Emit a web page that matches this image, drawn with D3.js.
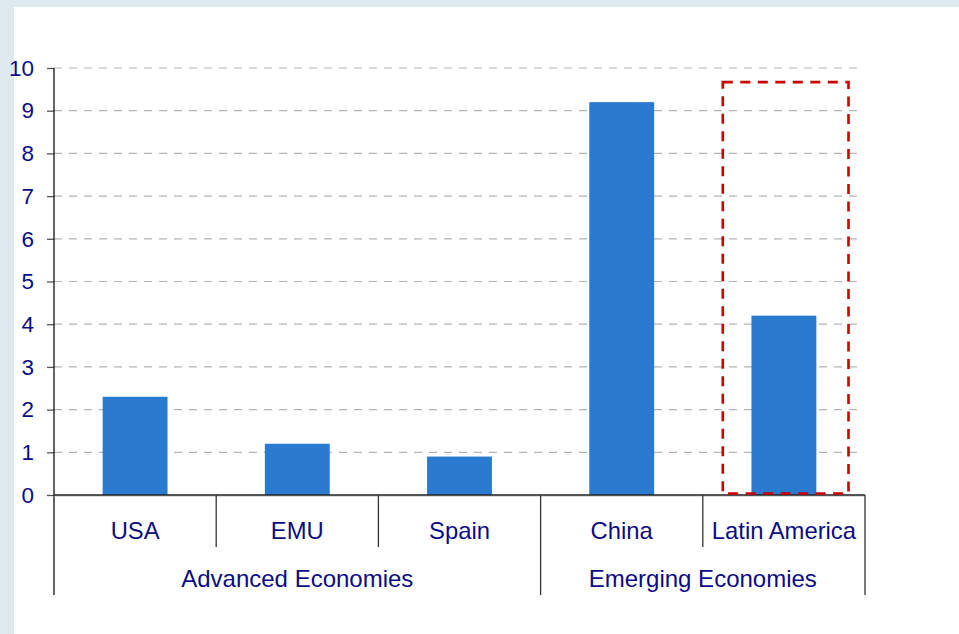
<!DOCTYPE html>
<html>
<head>
<meta charset="utf-8">
<script src="https://cdn.jsdelivr.net/npm/d3@7"></script>
<style>
  html, body { margin: 0; padding: 0; background: #dfe9f0; }
  svg { display: block; }
  text { font-family: "Liberation Sans", Arial, sans-serif; fill: #0c0c84; }
</style>
</head>
<body>
<svg id="chart" width="959" height="634"></svg>
<script>
// Categories, their groups and the plotted values
const categories = ["USA", "EMU", "Spain", "China", "Latin America"];
const groups = [
  { name: "Advanced Economies", members: ["USA", "EMU", "Spain"] },
  { name: "Emerging Economies", members: ["China", "Latin America"] }
];
const values = [2.3, 1.2, 0.9, 9.2, 4.2];
const yTicks = [0, 1, 2, 3, 4, 5, 6, 7, 8, 9, 10];
const highlighted = "Latin America";
const highlightTop = 9.67;

const svg = d3.select("#chart");
const W = 959, H = 634;

// white panel over the pale frame
svg.append("rect").attr("x", 14).attr("y", 7).attr("width", W - 14).attr("height", H - 7).attr("fill", "#ffffff");

const plot = { left: 54, right: 865, top: 68, bottom: 495 };
const catRowBottom = 547, groupRowBottom = 595;

const cell = d3.scaleBand().domain(categories).range([plot.left, plot.right]).padding(0);
const x = d3.scaleBand().domain(categories).range([plot.left, plot.right]).paddingInner(0.6).paddingOuter(0.3);
const y = d3.scaleLinear().domain([0, 10]).range([plot.bottom, plot.top]);

// dashed horizontal gridlines
svg.append("g").selectAll("line").data(yTicks.filter(d => d > 0)).join("line")
  .attr("x1", plot.left).attr("x2", 862)
  .attr("y1", d => y(d)).attr("y2", d => y(d))
  .attr("stroke", "#b4b4b4").attr("stroke-width", 1.2).attr("stroke-dasharray", "8,7");

// bars
svg.append("g").selectAll("rect").data(categories).join("rect")
  .attr("x", d => x(d)).attr("width", x.bandwidth())
  .attr("y", (d, i) => y(values[i]))
  .attr("height", (d, i) => y(0) - y(values[i]))
  .attr("fill", "#2a7ad0");

// y axis
const yAxis = d3.axisLeft(y).tickValues(yTicks).tickSize(7).tickPadding(13).tickFormat(d3.format("d"));
const gy = svg.append("g").attr("transform", `translate(${plot.left},0)`).call(yAxis);
gy.select(".domain").remove();
gy.selectAll(".tick line").attr("stroke", "#555").attr("stroke-width", 1.3);
gy.selectAll(".tick text").attr("font-size", 22.5).attr("fill", "#0c0c84")
  .attr("font-family", "Liberation Sans, Arial, sans-serif");
svg.append("line").attr("x1", plot.left).attr("x2", plot.left)
  .attr("y1", plot.top).attr("y2", groupRowBottom).attr("stroke", "#111").attr("stroke-width", 1.3);

// x axis baseline
svg.append("line").attr("x1", plot.left).attr("x2", plot.right)
  .attr("y1", y(0) + 1).attr("y2", y(0) + 1).attr("stroke", "#bbb").attr("stroke-width", 1);
svg.append("line").attr("x1", plot.left).attr("x2", plot.right)
  .attr("y1", y(0)).attr("y2", y(0)).attr("stroke", "#222").attr("stroke-width", 1.3);

// separators between categories and groups
const groupEnds = new Set(groups.map(g => g.members[g.members.length - 1]));
svg.append("g").selectAll("line").data(categories).join("line")
  .attr("x1", d => cell(d) + cell.bandwidth()).attr("x2", d => cell(d) + cell.bandwidth())
  .attr("y1", plot.bottom)
  .attr("y2", d => groupEnds.has(d) ? groupRowBottom : catRowBottom)
  .attr("stroke", "#333").attr("stroke-width", 1.3);

// category labels
svg.append("g").selectAll("text").data(categories).join("text")
  .attr("x", d => cell(d) + cell.bandwidth() / 2).attr("y", 539)
  .attr("text-anchor", "middle").attr("font-size", 23.8)
  .text(d => d);

// group labels
svg.append("g").selectAll("text").data(groups).join("text")
  .attr("x", g => (cell(g.members[0]) + cell(g.members[g.members.length - 1]) + cell.bandwidth()) / 2)
  .attr("y", 587).attr("text-anchor", "middle").attr("font-size", 24)
  .text(g => g.name);

// dashed outline around the highlighted category
const hx0 = cell(highlighted) + 20, hx1 = cell(highlighted) + cell.bandwidth() - 16.5;
svg.append("rect")
  .attr("x", hx0).attr("y", y(highlightTop))
  .attr("width", hx1 - hx0).attr("height", y(0) - 1.5 - y(highlightTop))
  .attr("fill", "none").attr("stroke", "#cc0000").attr("stroke-width", 2.6)
  .attr("stroke-dasharray", "10,7.5");
</script>
</body>
</html>
